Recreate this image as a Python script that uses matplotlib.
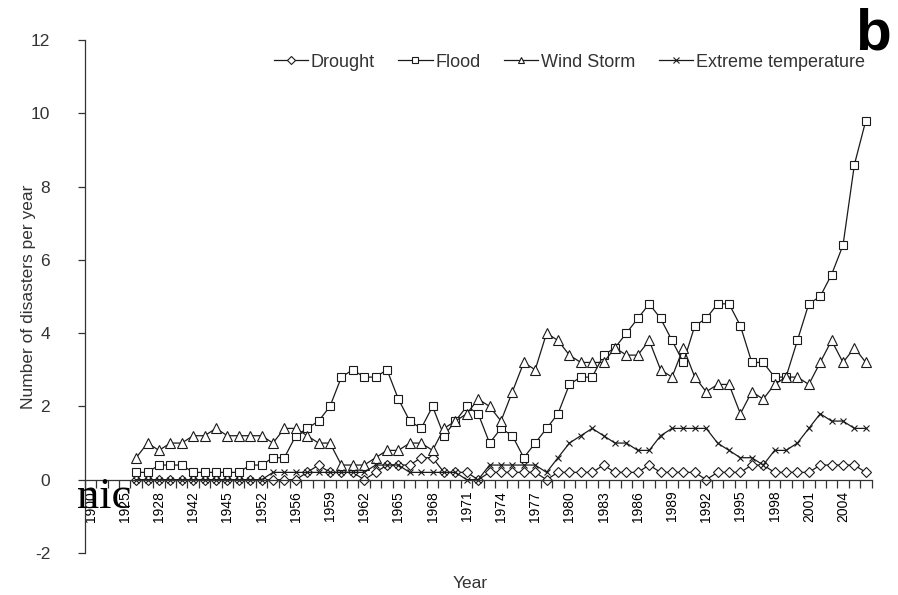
import numpy as np
import matplotlib
matplotlib.use("Agg")
import matplotlib.pyplot as plt

plt.rcParams['font.family'] = ['Liberation Sans', 'DejaVu Sans']
plt.rcParams['axes.unicode_minus'] = False

# Excel-style category axis: 69 slots, every 3rd one labelled
tick_years = ["1900", "1925", "1928", "1942", "1945", "1952", "1956", "1959",
              "1962", "1965", "1968", "1971", "1974", "1977", "1980", "1983",
              "1986", "1989", "1992", "1995", "1998", "2001", "2004"]
n_slots = 69
first_slot = 4  # series begin at the 5th category

drought = [0, 0, 0, 0, 0, 0, 0, 0, 0, 0, 0, 0, 0, 0, 0,
           0.2, 0.4, 0.2, 0.2, 0.2, 0, 0.2, 0.4, 0.4, 0.4, 0.6, 0.6, 0.2, 0.2, 0.2, 0,
           0.2, 0.2, 0.2, 0.2, 0.2, 0, 0.2, 0.2, 0.2, 0.2, 0.4, 0.2, 0.2, 0.2, 0.4,
           0.2, 0.2, 0.2, 0.2, 0, 0.2, 0.2, 0.2, 0.4, 0.4, 0.2, 0.2, 0.2, 0.2,
           0.4, 0.4, 0.4, 0.4, 0.2]
flood = [0.2, 0.2, 0.4, 0.4, 0.4, 0.2, 0.2, 0.2, 0.2, 0.2, 0.4, 0.4, 0.6, 0.6,
         1.2, 1.4, 1.6, 2.0, 2.8, 3.0, 2.8, 2.8, 3.0, 2.2, 1.6, 1.4, 2.0, 1.2, 1.6,
         2.0, 1.8, 1.0, 1.4, 1.2, 0.6, 1.0, 1.4, 1.8, 2.6, 2.8, 2.8, 3.4, 3.6, 4.0,
         4.4, 4.8, 4.4, 3.8, 3.2, 4.2, 4.4, 4.8, 4.8, 4.2, 3.2, 3.2, 2.8, 2.8, 3.8,
         4.8, 5.0, 5.6, 6.4, 8.6, 9.8]
wind = [0.6, 1.0, 0.8, 1.0, 1.0, 1.2, 1.2, 1.4, 1.2, 1.2, 1.2, 1.2, 1.0, 1.4,
        1.4, 1.2, 1.0, 1.0, 0.4, 0.4, 0.4, 0.6, 0.8, 0.8, 1.0, 1.0, 0.8, 1.4, 1.6,
        1.8, 2.2, 2.0, 1.6, 2.4, 3.2, 3.0, 4.0, 3.8, 3.4, 3.2, 3.2, 3.2, 3.6, 3.4,
        3.4, 3.8, 3.0, 2.8, 3.6, 2.8, 2.4, 2.6, 2.6, 1.8, 2.4, 2.2, 2.6, 2.8, 2.8,
        2.6, 3.2, 3.8, 3.2, 3.6, 3.2]
extreme = [0, 0, 0, 0, 0, 0, 0, 0, 0, 0, 0, 0,
           0.2, 0.2, 0.2, 0.2, 0.2, 0.2, 0.2, 0.2, 0.2, 0.4, 0.4, 0.4, 0.2, 0.2,
           0.2, 0.2, 0.2, 0, 0, 0.4, 0.4, 0.4, 0.4, 0.4, 0.2, 0.6, 1.0, 1.2, 1.4,
           1.2, 1.0, 1.0, 0.8, 0.8, 1.2, 1.4, 1.4, 1.4, 1.4, 1.0, 0.8, 0.6, 0.6,
           0.4, 0.8, 0.8, 1.0, 1.4, 1.8, 1.6, 1.6, 1.4, 1.4]

series = [("Drought", drought, "D", 5),
          ("Flood", flood, "s", 6),
          ("Wind Storm", wind, "^", 6.5),
          ("Extreme temperature", extreme, "x", 5)]

fig = plt.figure(figsize=(8.98, 5.95), dpi=100)
ax = fig.add_axes([0.0945, 0.0706, 0.876, 0.8622])

ink = "#1a1a1a"
grey = "#333333"
for name, vals, mk, ms in series:
    x = np.arange(len(vals)) + first_slot
    ax.plot(x, vals, color=ink, lw=0.9, marker=mk, ms=ms, mfc="white",
            mec=ink, mew=0.8, label=name)

ax.set_xlim(-0.5, n_slots - 0.5)
ax.set_ylim(-2, 12)
ax.set_yticks(np.arange(-2, 13, 2))

# tick marks between categories, labels on every 3rd category
ax.set_xticks(np.arange(-0.5, n_slots, 1))
ax.set_xticklabels([])
ax.set_xticks(np.arange(0, 3 * len(tick_years), 3), minor=True)
ax.set_xticklabels(tick_years, minor=True, fontsize=12.5, color=grey)
ax.tick_params(axis="x", which="major", direction="out", length=6, width=0.9, color=grey)
ax.tick_params(axis="x", which="minor", length=0, pad=8, labelrotation=90)
ax.tick_params(axis="y", direction="out", length=5, width=0.9, color=grey,
               labelsize=12.5, labelcolor=grey, pad=20)

ax.spines["bottom"].set_position(("data", 0))
ax.spines["top"].set_visible(False)
ax.spines["right"].set_visible(False)
for s in ("left", "bottom"):
    ax.spines[s].set_color(grey)
    ax.spines[s].set_linewidth(0.9)

ax.set_ylabel("Number of disasters per year", fontsize=12.5, color=grey)
ax.yaxis.set_label_coords(-0.062, 0.5)
ax.set_xlabel("Year", fontsize=12.5, color=grey)
ax.xaxis.set_label_coords(0.49, -0.044)

ax.legend(loc="upper right", bbox_to_anchor=(1.012, 1.005), ncol=4, frameon=False,
          fontsize=13, handlelength=1.9, handletextpad=0.15, columnspacing=1.3,
          markerscale=0.75, labelcolor=grey)

fig.text(0.992, 0.916, "b", fontsize=42, fontweight="bold", ha="right",
         va="baseline", color="black")
fig.text(0.086, 0.146, "nic", fontsize=32, ha="left", va="baseline",
         family="Liberation Serif", color="black")

fig.savefig("out.png", dpi=100)
